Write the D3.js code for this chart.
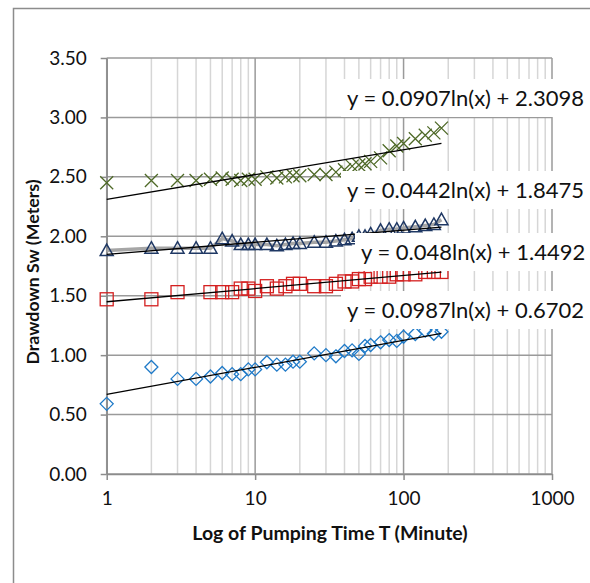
<!DOCTYPE html>
<html><head><meta charset="utf-8">
<script src="https://cdn.jsdelivr.net/npm/d3@7"></script>
<style>
html,body{margin:0;padding:0;background:#fff;}
svg{display:block;font-family:Lato,"Open Sans",sans-serif;}
</style></head>
<body><svg id="c" width="590" height="583"></svg>
<script>
// ---- data ----
const times = [1,2,3,4,5,6,7,8,9,10,12,14,16,18,20,25,30,35,40,45,50,55,60,70,80,90,100,120,140,160,180];
const crossValues = [2.45,2.47,2.47,2.47,2.48,2.49,2.48,2.47,2.48,2.48,2.50,2.49,2.50,2.51,2.51,2.52,2.52,2.54,2.56,2.59,2.60,2.61,2.63,2.66,2.72,2.76,2.78,2.82,2.85,2.87,2.91];
const triangleValues = [1.88,1.90,1.90,1.90,1.90,1.98,1.96,1.93,1.93,1.93,1.93,1.92,1.93,1.94,1.94,1.95,1.95,1.96,1.97,1.98,2.00,2.00,2.02,2.05,2.06,2.06,2.07,2.08,2.09,2.10,2.14];
const squareTimes = [1,2,3,5,6,7,8,9,10,12,14,16,18,20,25,30,35,40,45,50,55,60,70,80,90,100,120,140,160,180];
const squareValues = [1.47,1.47,1.53,1.53,1.53,1.53,1.56,1.56,1.54,1.58,1.56,1.58,1.60,1.60,1.58,1.58,1.60,1.62,1.62,1.64,1.64,1.66,1.66,1.66,1.68,1.68,1.68,1.70,1.70,1.70];
const diamondValues = [0.59,0.90,0.80,0.80,0.82,0.85,0.84,0.84,0.88,0.88,0.94,0.92,0.92,0.945,0.945,1.015,1.00,0.99,1.035,1.04,1.01,1.077,1.085,1.108,1.127,1.12,1.155,1.178,1.206,1.18,1.197];
const trendSlopes = [0.0907,0.0442,0.048,0.0987];
const trendIntercepts = [2.3098,1.8475,1.4492,0.6702];
const trendLabels = ["y = 0.0907ln(x) + 2.3098","y = 0.0442ln(x) + 1.8475","y = 0.048ln(x) + 1.4492","y = 0.0987ln(x) + 0.6702"];
const yTicks = [0,0.5,1,1.5,2,2.5,3,3.5];
const xTicks = [1,10,100,1000];
const trendRange = [1,180];

// ---- layout ----
const svg = d3.select("#c");
const L = 106.7, R = 552, T = 58, B = 474;
const x = d3.scaleLog().domain([1,1000]).range([L,R]);
const y = d3.scaleLinear().domain([0,3.5]).range([B,T]);

svg.append("rect").attr("x",13.5).attr("y",8.5).attr("width",620).attr("height",620)
  .attr("fill","#fff").attr("stroke","#8c8c8c").attr("stroke-width",1.5);

// minor vertical gridlines
const minor = [];
[1,10,100].forEach(d=>{for(let k=2;k<=9;k++) minor.push(d*k);});
svg.append("g").selectAll("line").data(minor).join("line")
  .attr("x1",d=>x(d)).attr("x2",d=>x(d)).attr("y1",T).attr("y2",B)
  .attr("stroke","#d6d6d6").attr("stroke-width",1.5);
// major vertical
svg.append("g").selectAll("line").data(xTicks).join("line")
  .attr("x1",d=>x(d)).attr("x2",d=>x(d)).attr("y1",T).attr("y2",B)
  .attr("stroke","#9a9a9a").attr("stroke-width",1.5);
// horizontal
svg.append("g").selectAll("line").data(yTicks).join("line")
  .attr("x1",L).attr("x2",R).attr("y1",d=>y(d)).attr("y2",d=>y(d))
  .attr("stroke","#9a9a9a").attr("stroke-width",1.5);

// axes
const ya = svg.append("g").attr("transform",`translate(${L},0)`)
  .call(d3.axisLeft(y).tickValues(yTicks).tickFormat(d3.format(".2f")).tickSize(6).tickSizeOuter(0).tickPadding(14));
const xa = svg.append("g").attr("transform",`translate(0,${B})`)
  .call(d3.axisBottom(x).tickValues(xTicks).tickFormat(d3.format("d")).tickSize(6).tickSizeOuter(0).tickPadding(12));
[ya,xa].forEach(a=>{
  a.select(".domain").attr("stroke","#8c8c8c").attr("stroke-width",1.5);
  a.selectAll(".tick line").attr("stroke","#8c8c8c").attr("stroke-width",1.5);
  a.selectAll("text").attr("font-family","Lato, sans-serif").attr("font-size",19).attr("fill","#111");
});

// gray connecting line for triangle series
svg.append("path").datum(times.map((t,i)=>[t,triangleValues[i]]))
  .attr("d",d3.line().x(d=>x(d[0])).y(d=>y(d[1])))
  .attr("fill","none").attr("stroke","#a6a6a6").attr("stroke-width",3.5);

const s = 6.5;
// crosses
svg.append("g").selectAll("path").data(times.map((t,i)=>[t,crossValues[i]])).join("path")
  .attr("d",d=>{const cx=x(d[0]),cy=y(d[1]);return `M${cx-s},${cy-s}L${cx+s},${cy+s}M${cx-s},${cy+s}L${cx+s},${cy-s}`;})
  .attr("stroke","#4f6a28").attr("stroke-width",1.3).attr("fill","none");
// triangles
svg.append("g").selectAll("path").data(times.map((t,i)=>[t,triangleValues[i]])).join("path")
  .attr("d",d=>{const cx=x(d[0]),cy=y(d[1]);return `M${cx},${cy-6.5}L${cx+6.5},${cy+5}L${cx-6.5},${cy+5}Z`;})
  .attr("stroke","#1f3864").attr("stroke-width",1.5).attr("fill","none");
// squares
svg.append("g").selectAll("rect").data(squareTimes.map((t,i)=>[t,squareValues[i]])).join("rect")
  .attr("x",d=>x(d[0])-6.5).attr("y",d=>y(d[1])-6.5).attr("width",13).attr("height",13)
  .attr("stroke","#d42020").attr("stroke-width",1.3).attr("fill","none");
// diamonds
svg.append("g").selectAll("path").data(times.map((t,i)=>[t,diamondValues[i]])).join("path")
  .attr("d",d=>{const cx=x(d[0]),cy=y(d[1]);return `M${cx},${cy-6.5}L${cx+6.5},${cy}L${cx},${cy+6.5}L${cx-6.5},${cy}Z`;})
  .attr("stroke","#1f7ac8").attr("stroke-width",1.3).attr("fill","none");

// trendlines
svg.append("g").selectAll("line").data(trendSlopes).join("line")
  .attr("x1",x(trendRange[0])).attr("x2",x(trendRange[1]))
  .attr("y1",(d,i)=>y(d*Math.log(trendRange[0])+trendIntercepts[i]))
  .attr("y2",(d,i)=>y(d*Math.log(trendRange[1])+trendIntercepts[i]))
  .attr("stroke","#000").attr("stroke-width",1.3);

// equation labels
const labelPos = [[347,98],[347,190],[361,252],[347,310]];
const lg = svg.append("g");
trendLabels.forEach((t,i)=>{
  lg.append("rect").attr("x",labelPos[i][0]-6).attr("y",labelPos[i][1]-19).attr("width",250).attr("height",38).attr("fill","#fff");
  lg.append("text").attr("x",labelPos[i][0]).attr("y",labelPos[i][1]).attr("dy","0.36em")
    .attr("font-size",22).attr("fill","#111").text(t);
});

// axis titles
svg.append("text").attr("transform","translate(39,272) rotate(-90)").attr("text-anchor","middle")
  .attr("font-size",17.8).attr("font-weight","bold").attr("fill","#111").text("Drawdown Sw (Meters)");
svg.append("text").attr("x",330).attr("y",540).attr("text-anchor","middle")
  .attr("font-size",19.5).attr("font-weight","bold").attr("fill","#111").text("Log of Pumping Time T (Minute)");
</script></body></html>
